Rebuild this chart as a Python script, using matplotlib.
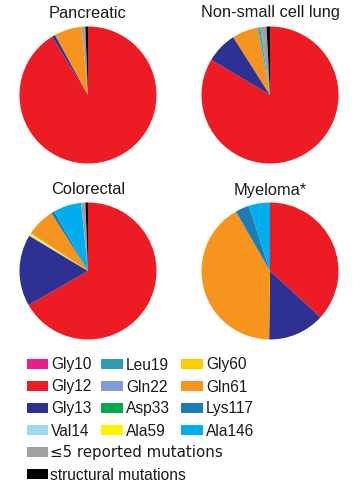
import matplotlib.pyplot as plt
from matplotlib.patches import Rectangle

W, H = 362, 489

mutations = ["Gly10", "Gly12", "Gly13", "Val14", "Leu19", "Gln22", "Asp33",
             "Ala59", "Gly60", "Gln61", "Lys117", "Ala146",
             "\u22645 reported mutations", "structural mutations"]
colors = ["#E91E8C", "#ED1C24", "#2E3192", "#9ED8F0", "#2E9BB3", "#7F9ED6",
          "#00A650", "#FFF200", "#FFCC00", "#F7941D", "#1C7DB5", "#00AEEF",
          "#A0A0A0", "#000000"]

# percent of mutations per cancer type, same order as `mutations`
pancreatic = [0, 91.2, 0.8, 0, 0, 0, 0, 0, 0, 6.5, 0, 0, 0.9, 0.6]
nsclc = [0, 83.6, 7.4, 0, 0, 0, 0, 0, 0, 6.2, 0, 0.5, 1.5, 0.8]
colorectal = [0, 66.7, 16.9, 0.3, 0, 0, 0, 0.4, 0, 6.7, 0.8, 6.6, 1.0, 0.6]
myeloma = [0, 36.8, 13.4, 0, 0, 0, 0, 0, 0, 41.5, 3.3, 5.0, 0, 0]

titles = ["Pancreatic", "Non-small cell lung", "Colorectal", "Myeloma*"]
series = [pancreatic, nsclc, colorectal, myeloma]

# pie centres and title heights in pixels
centres = [(88, 96), (270, 96), (88, 272), (270, 272)]
title_y = [13, 13, 190, 190]
r = 68.5

fig = plt.figure(figsize=(W / 100, H / 100), dpi=100)
plt.rcParams["font.family"] = ["Liberation Sans", "DejaVu Sans"]

for (cx, cy), ty, name, vals in zip(centres, title_y, titles, series):
    ax = fig.add_axes([(cx - r) / W, 1 - (cy + r) / H, 2 * r / W, 2 * r / H])
    keep = [i for i, v in enumerate(vals) if v > 0]
    ax.pie([vals[i] for i in keep], colors=[colors[i] for i in keep],
           startangle=90, counterclock=False,
           wedgeprops={"linewidth": 0})
    ax.set_xlim(-1.0, 1.0)
    ax.set_ylim(-1.0, 1.0)
    fig.text(cx / W, 1 - ty / H, name, ha="center", va="center",
             fontsize=11.8, color="#1a1a1a")

# legend drawn by hand
lax = fig.add_axes([0, 0, 1, 1])
lax.set_xlim(0, W)
lax.set_ylim(H, 0)
lax.axis("off")
row_y = [365, 387, 409, 431, 453, 475]
col_x = [(27, 48, 51), (101, 123, 126), (181, 203, 206)]
for i, (lab, col) in enumerate(zip(mutations, colors)):
    if i < 12:
        c, rw = divmod(i, 4)
        x0, x1, tx = col_x[c]
        y = row_y[rw]
    else:
        x0, x1, tx = col_x[0]
        y = row_y[4 + (i - 12)]
    lax.add_patch(Rectangle((x0, y - 5), x1 - x0, 10, color=col, lw=0))
    fam = ["DejaVu Sans"] if lab.startswith("\u2264") else ["Liberation Sans", "DejaVu Sans"]
    lax.text(tx - (1 if i >= 12 else 0), y, lab, ha="left", va="center",
             fontsize=11.2 if i != 12 else 10.8, family=fam, color="#1a1a1a")

fig.savefig("out.png", dpi=100)
